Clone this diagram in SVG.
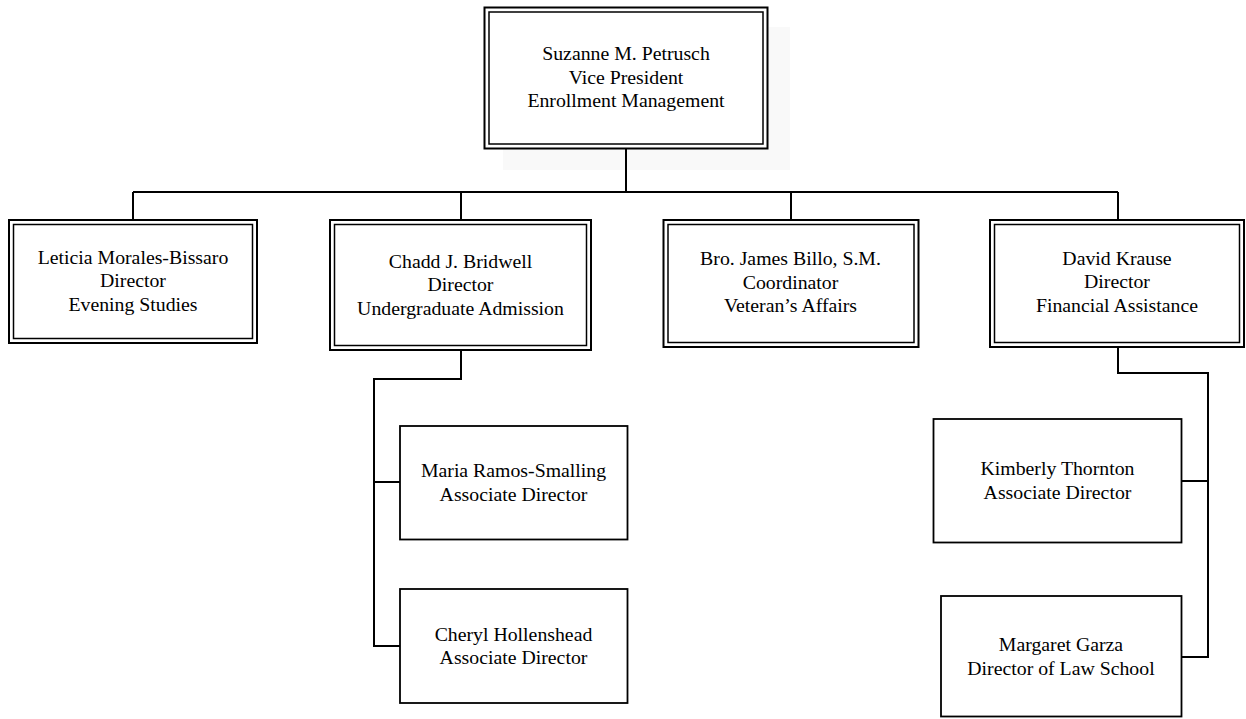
<svg xmlns="http://www.w3.org/2000/svg" width="1246" height="719" viewBox="0 0 1246 719">
<style>
.o{fill:#fff;stroke:#000;stroke-width:2}
.i{fill:none;stroke:#000;stroke-width:1.5}
.s{fill:#fff;stroke:#000;stroke-width:1.8}
.c{fill:none;stroke:#000;stroke-width:2}
text{font-family:"Liberation Serif","Times New Roman",serif;font-size:19.8px;text-anchor:middle;fill:#000}
</style>
<rect width="1246" height="719" fill="#fff"/>
<rect x="503" y="27" width="287" height="143" fill="#f9f9f9"/>
<g id="connectors">
<path class="c" d="M626 149V192M133 192H1118M133 192V219M461 192V219M791 192V219M1118 192V219"/>
<path class="c" d="M461 351V379H374V646H400M374 482H400"/>
<path class="c" d="M1118 347V373H1208V657H1182M1208 481H1182"/>
</g>
<g id="vp">
<rect class="o" x="484.5" y="7.5" width="283" height="141"/>
<rect class="i" x="489" y="12" width="274" height="132"/>
<text x="626" y="60">Suzanne M. Petrusch</text>
<text x="626" y="83.5">Vice President</text>
<text x="626" y="106.5">Enrollment Management</text>
</g>
<g id="leticia">
<rect class="o" x="9" y="220" width="248" height="123"/>
<rect class="i" x="13.5" y="224.5" width="239" height="114"/>
<text x="133" y="263.5">Leticia Morales-Bissaro</text>
<text x="133" y="287">Director</text>
<text x="133" y="310.5">Evening Studies</text>
</g>
<g id="chadd">
<rect class="o" x="330" y="220" width="261" height="130"/>
<rect class="i" x="334.5" y="224.5" width="252" height="121"/>
<text x="460.5" y="267.5">Chadd J. Bridwell</text>
<text x="460.5" y="291">Director</text>
<text x="460.5" y="314.5">Undergraduate Admission</text>
</g>
<g id="james">
<rect class="o" x="663.5" y="220" width="255" height="127"/>
<rect class="i" x="668" y="224.5" width="246" height="118"/>
<text x="790.5" y="265">Bro. James Billo, S.M.</text>
<text x="790.5" y="288.5">Coordinator</text>
<text x="790.5" y="312">Veteran’s Affairs</text>
</g>
<g id="david">
<rect class="o" x="990" y="220" width="254" height="127"/>
<rect class="i" x="994.5" y="224.5" width="245" height="118"/>
<text x="1117" y="264.5">David Krause</text>
<text x="1117" y="288">Director</text>
<text x="1117" y="311.5">Financial Assistance</text>
</g>
<g id="maria">
<rect class="s" x="400" y="426" width="227.5" height="113.5"/>
<text x="513.5" y="477">Maria Ramos-Smalling</text>
<text x="513.5" y="500.5">Associate Director</text>
</g>
<g id="cheryl">
<rect class="s" x="400" y="589" width="227.5" height="114"/>
<text x="513.5" y="640.5">Cheryl Hollenshead</text>
<text x="513.5" y="664">Associate Director</text>
</g>
<g id="kimberly">
<rect class="s" x="933.5" y="419" width="248" height="123.5"/>
<text x="1057.5" y="475">Kimberly Thornton</text>
<text x="1057.5" y="498.5">Associate Director</text>
</g>
<g id="margaret">
<rect class="s" x="941" y="596" width="240.5" height="120.5"/>
<text x="1061" y="651">Margaret Garza</text>
<text x="1061" y="674.5">Director of Law School</text>
</g>
</svg>
